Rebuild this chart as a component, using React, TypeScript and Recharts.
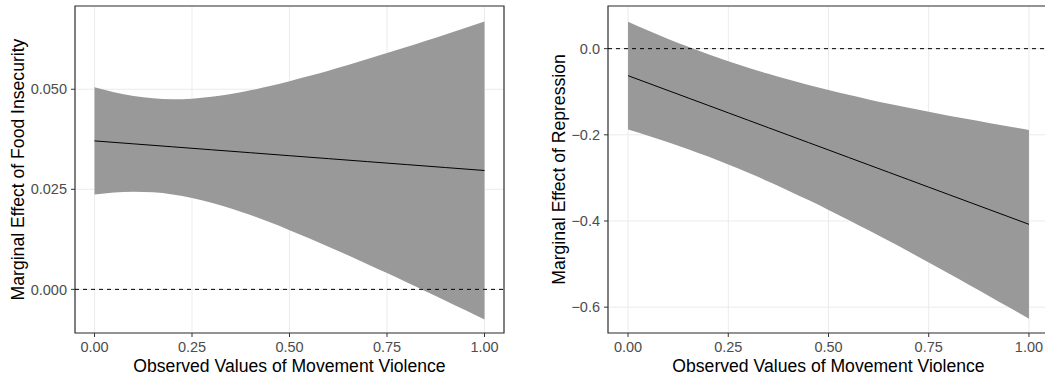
import {
  ComposedChart,
  Area,
  Line,
  XAxis,
  YAxis,
  CartesianGrid,
  ReferenceLine,
  ReferenceArea,
} from "recharts";

// observed values of movement violence
const violence = [
  0, 0.05, 0.1, 0.15, 0.2, 0.25, 0.3, 0.35, 0.4, 0.45, 0.5,
  0.55, 0.6, 0.65, 0.7, 0.75, 0.8, 0.85, 0.9, 0.95, 1,
];

// left panel: marginal effect of food insecurity
const foodFit = [
  0.0371, 0.03673, 0.03636, 0.03599, 0.03562, 0.03525, 0.03488, 0.03451, 0.03414, 0.03377, 0.0334,
  0.03303, 0.03266, 0.03229, 0.03192, 0.03155, 0.03118, 0.03081, 0.03044, 0.03007, 0.0297,
];
const foodLower = [
  0.0237, 0.0242, 0.0244, 0.02424, 0.02372, 0.02285, 0.02166, 0.02021, 0.01856, 0.01674, 0.0148,
  0.01277, 0.01067, 0.00851, 0.0063, 0.00406, 0.00179, -0.00051, -0.00282, -0.00515, -0.0075,
];
const foodUpper = [
  0.0505, 0.04926, 0.04832, 0.04774, 0.04752, 0.04765, 0.0481, 0.04881, 0.04972, 0.0508, 0.052,
  0.05329, 0.05465, 0.05607, 0.05754, 0.05904, 0.06057, 0.06213, 0.0637, 0.06529, 0.0669,
];

// right panel: marginal effect of repression
const repFit = [
  -0.0627, -0.07995, -0.0972, -0.11445, -0.1317, -0.14895, -0.1662, -0.18345, -0.2007, -0.21795, -0.2352,
  -0.25245, -0.2697, -0.28695, -0.3042, -0.32145, -0.3387, -0.35595, -0.3732, -0.39045, -0.4077,
];
const repLower = [
  -0.1877, -0.20191, -0.21709, -0.23329, -0.25053, -0.26882, -0.28812, -0.3084, -0.32957, -0.35156, -0.37429,
  -0.39768, -0.42164, -0.4461, -0.471, -0.49627, -0.52188, -0.54777, -0.57391, -0.60027, -0.6267,
];
const repUpper = [
  0.0623, 0.04201, 0.02269, 0.00439, -0.01287, -0.02908, -0.04428, -0.0585, -0.07183, -0.08434, -0.09611,
  -0.10722, -0.11776, -0.1278, -0.1374, -0.14663, -0.15552, -0.16413, -0.17249, -0.18063, -0.1887,
];

const xTicks = [0, 0.25, 0.5, 0.75, 1];
const foodTicks = [0, 0.025, 0.05];
const repTicks = [-0.6, -0.4, -0.2, 0];

const FONT = "'Liberation Sans', Arial, Helvetica, sans-serif";
const TICK = { fontSize: 14.5, fill: "#4d4d4d", fontFamily: FONT };
const TITLE_SIZE = 17.6;
const X_DOMAIN: [number, number] = [-0.05, 1.05];
const minus = (s: string) => s.replace("-", "\u2212");

const foodRows = violence.map((x, i) => ({ x, fit: foodFit[i], band: [foodLower[i], foodUpper[i]] }));
const repRows = violence.map((x, i) => ({ x, fit: repFit[i], band: [repLower[i], repUpper[i]] }));

function Panel({
  rows,
  yDomain,
  yTicks,
  yFmt,
  yTitle,
  width,
  yAxisWidth,
  marginRight,
  titleX,
}: {
  rows: { x: number; fit: number; band: number[] }[];
  yDomain: [number, number];
  yTicks: number[];
  yFmt: (v: number) => string;
  yTitle: string;
  width: number;
  yAxisWidth: number;
  marginRight: number;
  titleX: number;
}) {
  return (
    <ComposedChart
      width={width}
      height={379}
      data={rows}
      margin={{ top: 6, right: marginRight, bottom: 0, left: 0 }}
    >
      <CartesianGrid stroke="#ebebeb" strokeWidth={1} />
      <XAxis
        dataKey="x"
        type="number"
        domain={X_DOMAIN}
        ticks={xTicks}
        tickFormatter={(v: number) => v.toFixed(2)}
        tick={TICK}
        tickSize={4}
        tickMargin={5}
        axisLine={false}
        tickLine={{ stroke: "#333333" }}
        height={46}
        allowDataOverflow
        label={{
          content: ({ viewBox }: any) => (
            <text
              x={viewBox.x + viewBox.width / 2}
              y={372}
              textAnchor="middle"
              fontSize={TITLE_SIZE}
              fontFamily={FONT}
              fill="#000"
            >
              Observed Values of Movement Violence
            </text>
          ),
        }}
      />
      <YAxis
        type="number"
        domain={yDomain}
        ticks={yTicks}
        tickFormatter={yFmt}
        tick={TICK}
        tickSize={4}
        tickMargin={4}
        axisLine={false}
        tickLine={{ stroke: "#333333" }}
        width={yAxisWidth}
        allowDataOverflow
        label={{
          content: ({ viewBox }: any) => {
            const cy = viewBox.y + viewBox.height / 2;
            return (
              <text
                x={titleX}
                y={cy}
                transform={`rotate(-90 ${titleX} ${cy})`}
                textAnchor="middle"
                fontSize={TITLE_SIZE}
                fontFamily={FONT}
                fill="#000"
              >
                {yTitle}
              </text>
            );
          },
        }}
      />
      <Area
        dataKey="band"
        type="monotone"
        fill="#999999"
        fillOpacity={1}
        stroke="none"
        isAnimationActive={false}
        activeDot={false}
      />
      <Line
        dataKey="fit"
        type="linear"
        stroke="#000000"
        strokeWidth={1}
        dot={false}
        activeDot={false}
        isAnimationActive={false}
      />
      <ReferenceLine y={0} stroke="#000000" strokeWidth={1} strokeDasharray="4 4" />
      <ReferenceArea
        x1={X_DOMAIN[0]}
        x2={X_DOMAIN[1]}
        y1={yDomain[0]}
        y2={yDomain[1]}
        fill="none"
        stroke="#333333"
        strokeWidth={1.2}
        ifOverflow="visible"
      />
    </ComposedChart>
  );
}

export default function App() {
  return (
    <div
      style={{
        position: "absolute",
        left: 0,
        top: 0,
        width: 1045,
        height: 379,
        overflow: "hidden",
        background: "#fff",
      }}
    >
      <div style={{ position: "absolute", left: 0, top: 0 }}>
        <Panel
          rows={foodRows}
          yDomain={[-0.0109, 0.0708]}
          yTicks={foodTicks}
          yFmt={(v) => minus(v.toFixed(3))}
          yTitle="Marginal Effect of Food Insecurity"
          width={520}
          yAxisWidth={75}
          marginRight={16}
          titleX={24}
        />
      </div>
      <div style={{ position: "absolute", left: 520, top: 0 }}>
        <Panel
          rows={repRows}
          yDomain={[-0.66, 0.099]}
          yTicks={repTicks}
          yFmt={(v) => minus(v.toFixed(1))}
          yTitle="Marginal Effect of Repression"
          width={535}
          yAxisWidth={88}
          marginRight={6}
          titleX={45}
        />
      </div>
    </div>
  );
}
